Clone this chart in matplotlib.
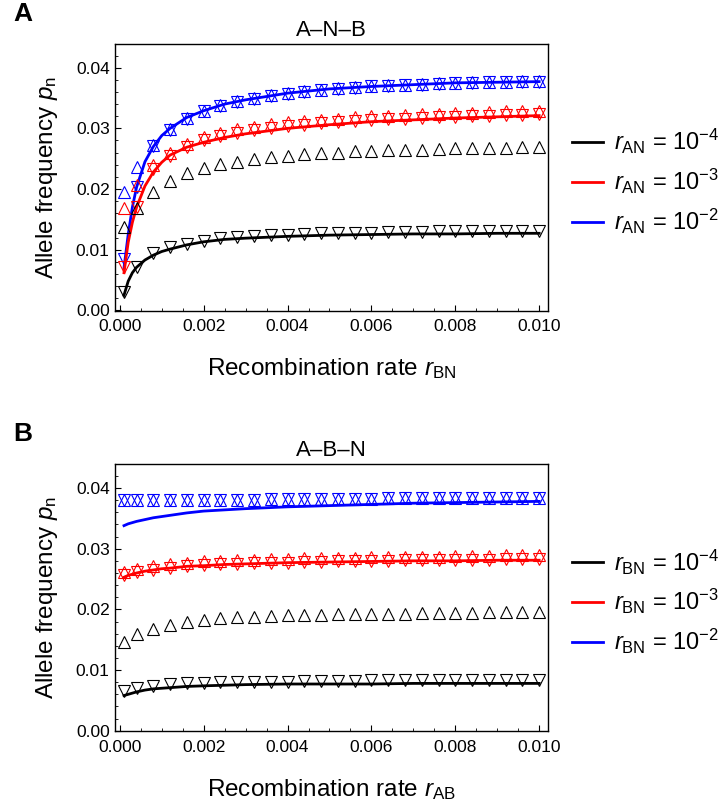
import matplotlib
matplotlib.use("Agg")
import matplotlib.pyplot as plt
from matplotlib.ticker import MultipleLocator, FormatStrFormatter
from matplotlib.lines import Line2D

plt.rcParams["font.family"] = ["Liberation Sans", "DejaVu Sans"]
plt.rcParams["mathtext.fontset"] = "custom"
plt.rcParams["mathtext.rm"] = "Liberation Sans"
plt.rcParams["mathtext.it"] = "Liberation Sans:italic"

# simulation sample points (recombination rate)
r_sim = [0.0001, 0.0004, 0.0008, 0.0012, 0.0016, 0.0020, 0.0024, 0.0028, 0.0032,
         0.0036, 0.0040, 0.0044, 0.0048, 0.0052, 0.0056, 0.0060, 0.0064, 0.0068,
         0.0072, 0.0076, 0.0080, 0.0084, 0.0088, 0.0092, 0.0096, 0.0100]
# theory curve points
r_th = [0.0001, 0.0002, 0.0003, 0.0004, 0.0006, 0.0008, 0.0010, 0.0012, 0.0016,
        0.0020, 0.0025, 0.0030, 0.0040, 0.0050, 0.0060, 0.0070, 0.0080, 0.0090, 0.0100]

colors = ["black", "red", "blue"]
exps = ["-4", "-3", "-2"]

# ---- panel A: A-N-B ----
A_theory = [
    [0.0025, 0.0048, 0.0062, 0.0071, 0.0083, 0.0091, 0.0097, 0.0101, 0.0108, 0.0113,
     0.0117, 0.0119, 0.0122, 0.0124, 0.0125, 0.0126, 0.0126, 0.0127, 0.0127],
    [0.0062, 0.0112, 0.0145, 0.0170, 0.0205, 0.0228, 0.0244, 0.0256, 0.0269, 0.0277,
     0.0285, 0.0291, 0.0300, 0.0306, 0.0311, 0.0314, 0.0317, 0.0319, 0.0321],
    [0.0070, 0.0125, 0.0170, 0.0203, 0.0245, 0.0270, 0.0288, 0.0300, 0.0318, 0.0329,
     0.0340, 0.0347, 0.0358, 0.0365, 0.0369, 0.0372, 0.0375, 0.0376, 0.0377],
]
A_up = [
    [0.0138, 0.0168, 0.0195, 0.0213, 0.0226, 0.0235, 0.0241, 0.0245, 0.0249, 0.0252,
     0.0254, 0.0257, 0.0259, 0.0260, 0.0262, 0.0263, 0.0264, 0.0265, 0.0265, 0.0266,
     0.0267, 0.0267, 0.0268, 0.0268, 0.0269, 0.0270],
    [0.0168, 0.0206, 0.0239, 0.0260, 0.0275, 0.0286, 0.0293, 0.0299, 0.0303, 0.0307,
     0.0310, 0.0312, 0.0314, 0.0316, 0.0318, 0.0320, 0.0321, 0.0322, 0.0323, 0.0324,
     0.0325, 0.0326, 0.0327, 0.0328, 0.0328, 0.0329],
    [0.0195, 0.0236, 0.0272, 0.0299, 0.0317, 0.0329, 0.0338, 0.0345, 0.0350, 0.0355,
     0.0358, 0.0361, 0.0364, 0.0366, 0.0368, 0.0370, 0.0371, 0.0372, 0.0373, 0.0374,
     0.0375, 0.0376, 0.0377, 0.0377, 0.0378, 0.0378],
]
A_down = [
    [0.0030, 0.0071, 0.0094, 0.0104, 0.0110, 0.0115, 0.0119, 0.0121, 0.0123, 0.0124,
     0.0125, 0.0126, 0.0127, 0.0127, 0.0128, 0.0128, 0.0129, 0.0129, 0.0129, 0.0130,
     0.0130, 0.0130, 0.0130, 0.0131, 0.0131, 0.0131],
    [0.0071, 0.0170, 0.0233, 0.0254, 0.0269, 0.0280, 0.0287, 0.0293, 0.0297, 0.0301,
     0.0304, 0.0306, 0.0308, 0.0310, 0.0312, 0.0314, 0.0315, 0.0316, 0.0317, 0.0318,
     0.0319, 0.0320, 0.0321, 0.0322, 0.0322, 0.0323],
    [0.0085, 0.0203, 0.0271, 0.0298, 0.0316, 0.0328, 0.0337, 0.0344, 0.0349, 0.0354,
     0.0357, 0.0360, 0.0363, 0.0365, 0.0367, 0.0369, 0.0370, 0.0371, 0.0372, 0.0373,
     0.0374, 0.0375, 0.0376, 0.0376, 0.0377, 0.0377],
]

# ---- panel B: A-B-N ----
B_theory = [
    [0.0058, 0.0060, 0.0062, 0.0064, 0.0067, 0.0069, 0.0070, 0.0071, 0.0073, 0.0074,
     0.0075, 0.0076, 0.0077, 0.0077, 0.0077, 0.0078, 0.0078, 0.0078, 0.0078],
    [0.0253, 0.0256, 0.0258, 0.0260, 0.0263, 0.0265, 0.0267, 0.0268, 0.0271, 0.0272,
     0.0274, 0.0275, 0.0277, 0.0278, 0.0279, 0.0280, 0.0280, 0.0281, 0.0281],
    [0.0338, 0.0341, 0.0343, 0.0345, 0.0348, 0.0351, 0.0353, 0.0355, 0.0359, 0.0362,
     0.0364, 0.0366, 0.0369, 0.0371, 0.0373, 0.0375, 0.0376, 0.0377, 0.0378],
]
B_up = [
    [0.0147, 0.0160, 0.0168, 0.0174, 0.0179, 0.0182, 0.0185, 0.0187, 0.0188, 0.0189,
     0.0190, 0.0191, 0.0191, 0.0192, 0.0192, 0.0193, 0.0193, 0.0193, 0.0194, 0.0194,
     0.0194, 0.0194, 0.0195, 0.0195, 0.0195, 0.0195],
    [0.0262, 0.0267, 0.0271, 0.0274, 0.0277, 0.0279, 0.0280, 0.0281, 0.0282, 0.0283,
     0.0283, 0.0284, 0.0284, 0.0285, 0.0285, 0.0286, 0.0286, 0.0287, 0.0287, 0.0287,
     0.0288, 0.0288, 0.0288, 0.0289, 0.0289, 0.0289],
    [0.0380, 0.0380, 0.0380, 0.0380, 0.0381, 0.0381, 0.0381, 0.0381, 0.0381, 0.0382,
     0.0382, 0.0382, 0.0382, 0.0382, 0.0382, 0.0382, 0.0383, 0.0383, 0.0383, 0.0383,
     0.0383, 0.0383, 0.0383, 0.0384, 0.0384, 0.0384],
]
B_down = [
    [0.0066, 0.0070, 0.0074, 0.0077, 0.0078, 0.0079, 0.0080, 0.0080, 0.0081, 0.0081,
     0.0081, 0.0082, 0.0082, 0.0082, 0.0082, 0.0083, 0.0083, 0.0083, 0.0083, 0.0083,
     0.0083, 0.0084, 0.0084, 0.0084, 0.0084, 0.0084],
    [0.0256, 0.0261, 0.0265, 0.0268, 0.0271, 0.0273, 0.0274, 0.0275, 0.0276, 0.0277,
     0.0277, 0.0278, 0.0278, 0.0279, 0.0279, 0.0280, 0.0280, 0.0281, 0.0281, 0.0281,
     0.0282, 0.0282, 0.0282, 0.0283, 0.0283, 0.0283],
    [0.0380, 0.0380, 0.0380, 0.0380, 0.0381, 0.0381, 0.0381, 0.0381, 0.0381, 0.0382,
     0.0382, 0.0382, 0.0382, 0.0382, 0.0382, 0.0382, 0.0383, 0.0383, 0.0383, 0.0383,
     0.0383, 0.0383, 0.0383, 0.0384, 0.0384, 0.0384],
]

panels = [
    ("A", "A\u2013N\u2013B", "BN", "AN", A_theory, A_up, A_down, 0.6156),
    ("B", "A\u2013B\u2013N", "AB", "BN", B_theory, B_up, B_down, 0.0960),
]

fig = plt.figure(figsize=(7.19, 8.09), dpi=100)

for letter, title, xsub, legsub, theory, up, down, bottom in panels:
    ax = fig.add_axes([0.1602, bottom, 0.6025, 0.330])

    # draw blue first so black ends on top
    for i in [2, 1, 0]:
        c = colors[i]
        ax.plot(r_sim, up[i], linestyle="none", marker="^", markersize=8.5,
                markerfacecolor="none", markeredgecolor=c, markeredgewidth=0.8)
        ax.plot(r_sim, down[i], linestyle="none", marker="v", markersize=8.5,
                markerfacecolor="none", markeredgecolor=c, markeredgewidth=0.8)
        ax.plot(r_th, theory[i], color=c, linewidth=2)

    ax.set_xlim(-0.00011, 0.01022)
    ax.set_ylim(-0.0001, 0.0439)
    ax.xaxis.set_major_locator(MultipleLocator(0.002))
    ax.xaxis.set_minor_locator(MultipleLocator(0.0005))
    ax.yaxis.set_major_locator(MultipleLocator(0.01))
    ax.yaxis.set_minor_locator(MultipleLocator(0.002))
    ax.xaxis.set_major_formatter(FormatStrFormatter("%.3f"))
    ax.yaxis.set_major_formatter(FormatStrFormatter("%.2f"))
    ax.tick_params(which="both", direction="in", labelsize=12.5, top=False, right=False)
    ax.tick_params(which="major", length=4, width=0.8)
    ax.tick_params(which="minor", length=2.5, width=0.6)
    ax.tick_params(axis="x", which="major", pad=6)
    ax.tick_params(axis="y", which="major", pad=4)
    for s in ax.spines.values():
        s.set_linewidth(1.0)

    ax.set_title(title, fontsize=16, pad=6)
    ax.set_xlabel(r"Recombination rate $r_{\mathrm{%s}}$" % xsub, fontsize=17.5, labelpad=16)
    ax.set_ylabel(r"Allele frequency $p_{\mathrm{n}}$", fontsize=17.5, labelpad=11)

    handles = [Line2D([0], [0], color=c, linewidth=2) for c in colors]
    labels = [r"$r_{\mathrm{%s}}$ = $10^{%s}$" % (legsub, e) for e in exps]
    ax.legend(handles, labels, loc="center left", bbox_to_anchor=(1.0, 0.485),
              frameon=False, fontsize=17, handlelength=1.3, handletextpad=0.5,
              labelspacing=0.45, borderaxespad=0.6, borderpad=0.4)

    fig.text(0.032, bottom + 0.330 + 0.037, letter, fontsize=19, fontweight="bold",
             ha="center", va="center")

fig.savefig("out.png", dpi=100)
